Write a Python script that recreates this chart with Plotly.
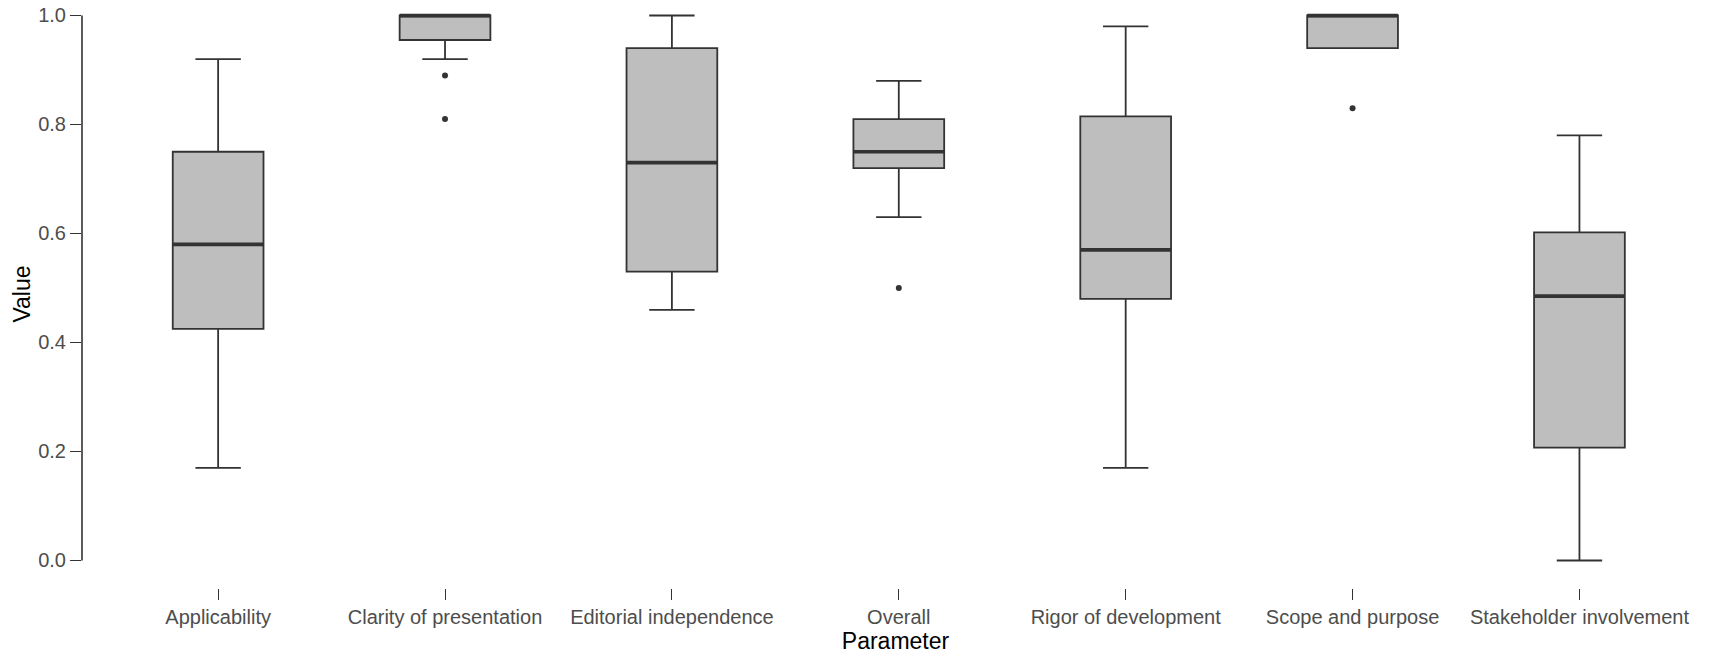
import plotly.graph_objects as go

# Summary statistics per appraisal domain
categories = [
    "Applicability",
    "Clarity of presentation",
    "Editorial independence",
    "Overall",
    "Rigor of development",
    "Scope and purpose",
    "Stakeholder involvement",
]
lower_whisker = [0.17, 0.92, 0.46, 0.63, 0.17, 0.94, 0.00]
q1 = [0.425, 0.955, 0.53, 0.72, 0.48, 0.94, 0.207]
median = [0.58, 1.00, 0.73, 0.75, 0.57, 1.00, 0.485]
q3 = [0.75, 1.00, 0.94, 0.81, 0.815, 1.00, 0.602]
upper_whisker = [0.92, 1.00, 1.00, 0.88, 0.98, 1.00, 0.78]

# Outlying observations (category index, value)
outlier_cat = [1, 1, 3, 5]
outlier_val = [0.89, 0.81, 0.50, 0.83]

y_ticks = [0.0, 0.2, 0.4, 0.6, 0.8, 1.0]

LINE = "#333333"
FILL = "#BEBEBE"
TEXT = "#4D4D4D"
FONT = "Liberation Sans, Arial, Helvetica, sans-serif"
BOX_W = 0.4

positions = list(range(len(categories)))

fig = go.Figure()

fig.add_trace(go.Box(
    x=positions,
    q1=q1,
    median=median,
    q3=q3,
    lowerfence=lower_whisker,
    upperfence=upper_whisker,
    width=BOX_W,
    whiskerwidth=0.5,
    fillcolor=FILL,
    line=dict(color=LINE, width=1.8),
    boxpoints=False,
    hoverinfo="skip",
    showlegend=False,
))

# Thicker median bars drawn over the boxes
mx, my = [], []
for i, m in zip(positions, median):
    mx += [i - BOX_W / 2, i + BOX_W / 2, None]
    my += [m, m, None]
fig.add_trace(go.Scatter(
    x=mx, y=my, mode="lines",
    line=dict(color=LINE, width=3.6),
    hoverinfo="skip", showlegend=False,
))

fig.add_trace(go.Scatter(
    x=outlier_cat, y=outlier_val, mode="markers",
    marker=dict(color=LINE, size=6),
    hoverinfo="skip", showlegend=False,
))

# Range-frame style y axis line spanning 0..1 only
fig.add_shape(
    type="line", xref="paper", yref="y",
    x0=0, x1=0, y0=min(y_ticks), y1=max(y_ticks),
    line=dict(color=LINE, width=1.6),
)

fig.update_layout(
    width=1709,
    height=654,
    margin=dict(l=82, r=0, t=0, b=66),
    paper_bgcolor="white",
    plot_bgcolor="white",
    font=dict(family=FONT, color=TEXT, size=20),
    xaxis=dict(
        range=[-0.6, 6.571],
        tickmode="array",
        tickvals=positions,
        ticktext=categories,
        ticks="outside",
        ticklen=11,
        tickwidth=1.3,
        tickcolor=LINE,
        showline=False,
        showgrid=False,
        zeroline=False,
        tickfont=dict(size=20, color=TEXT, family=FONT),
        title=dict(text="Parameter", font=dict(size=23, color="black", family=FONT), standoff=4),
    ),
    yaxis=dict(
        range=[-0.0505, 1.0284],
        tickmode="array",
        tickvals=y_ticks,
        ticktext=[f"{v:.1f}" for v in y_ticks],
        ticks="outside",
        ticklen=11,
        tickwidth=1.3,
        tickcolor=LINE,
        showline=False,
        showgrid=False,
        zeroline=False,
        tickfont=dict(size=20, color=TEXT, family=FONT),
        title=dict(text="Value", font=dict(size=23, color="black", family=FONT), standoff=1),
    ),
)

fig.write_html("out.html")
